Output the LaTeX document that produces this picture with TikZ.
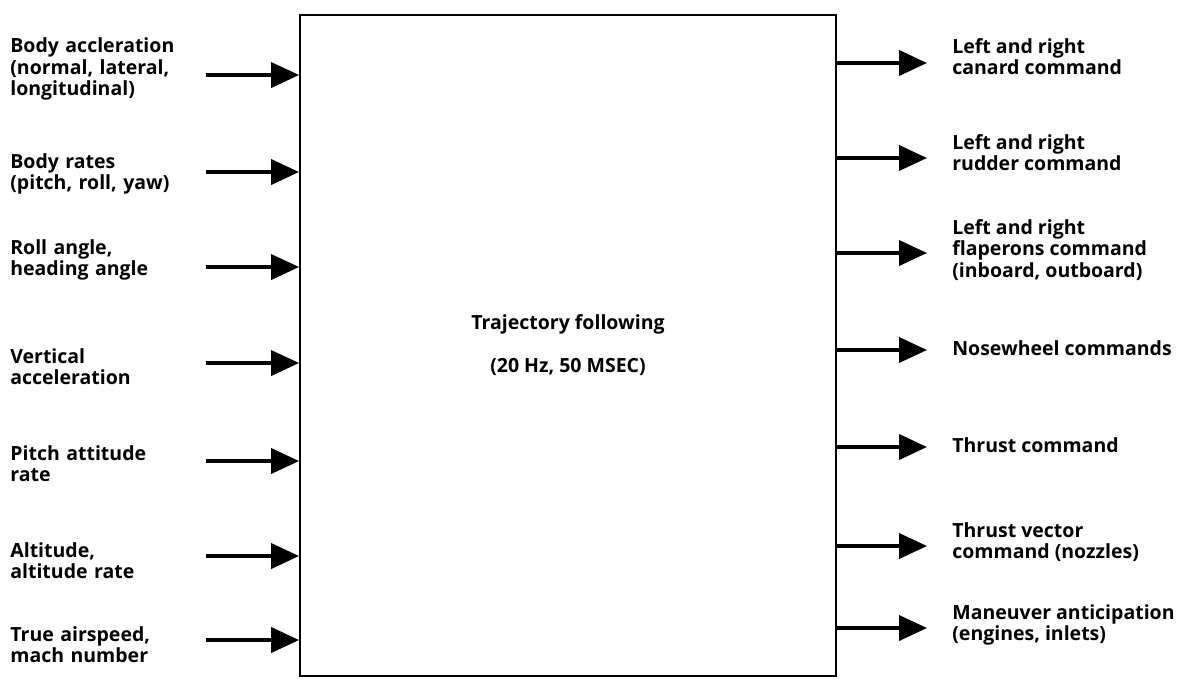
\documentclass[tikz,border=0pt]{standalone}
\usepackage{fontspec}
\setmainfont{Open Sans}
\usetikzlibrary{arrows.meta,positioning}

\begin{document}
\begin{tikzpicture}[
  x=0.02cm, y=-0.02cm,
  font=\fontsize{11.1}{12}\selectfont\bfseries,
  inlabel/.style={anchor=west, inner sep=0pt, text width=3.9cm, align=left},
  outlabel/.style={anchor=west, inner sep=0pt, align=left},
  block/.style={draw, line width=1.1pt, minimum width=10.72cm, minimum height=13.22cm,
                align=center, inner sep=0pt},
  arr/.style={-{Triangle[length=0.56cm, width=0.5cm]}, line width=2.2pt},
  outarr/.style={arr, shorten >=0.5cm},
]
\useasboundingbox (0,0) rectangle (1195,681);

%% --- Central block ---
\node[block] (box) at (568,345.5) {Trajectory following\\[12.4pt](20 Hz, 50 MSEC)};

%% --- Inputs (left) ---
\node[inlabel] (i1) at (10, 69) {Body accleration\\(normal, lateral,\\longitudinal)};
\node[inlabel] (i2) at (10,174) {Body rates\\(pitch, roll, yaw)};
\node[inlabel] (i3) at (10,260) {Roll angle,\\heading angle};
\node[inlabel] (i4) at (10,367) {Vertical\\acceleration};
\node[inlabel] (i5) at (10,464) {Pitch attitude\\rate};
\node[inlabel] (i6) at (10,561) {Altitude,\\altitude rate};
\node[inlabel] (i7) at (10,645) {True airspeed,\\mach number};

%% --- Outputs (right) ---
\node[outlabel] (o1) at (952, 57) {Left and right\\canard command};
\node[outlabel] (o2) at (952,153) {Left and right\\rudder command};
\node[outlabel] (o3) at (952,250) {Left and right\\flaperons command\\(inboard, outboard)};
\node[outlabel] (o4) at (952,348) {Nosewheel commands};
\node[outlabel] (o5) at (952,445) {Thrust command};
\node[outlabel] (o6) at (952,542) {Thrust vector\\command (nozzles)};
\node[outlabel] (o7) at (952,625) {Maneuver anticipation\\(engines, inlets)};

%% --- Arrows: inputs -> block ---
\foreach \n/\y in {i1/75, i2/172, i3/267, i4/363, i5/461, i6/556, i7/640}
  \draw[arr] (\n.east |- 0,\y) -- (box.west |- 0,\y);

%% --- Arrows: block -> outputs ---
\foreach \n/\y in {o1/63, o2/158, o3/253, o4/350, o5/447, o6/546, o7/628}
  \draw[outarr] (box.east |- 0,\y) -- (\n.west |- 0,\y);

\end{tikzpicture}
\end{document}
